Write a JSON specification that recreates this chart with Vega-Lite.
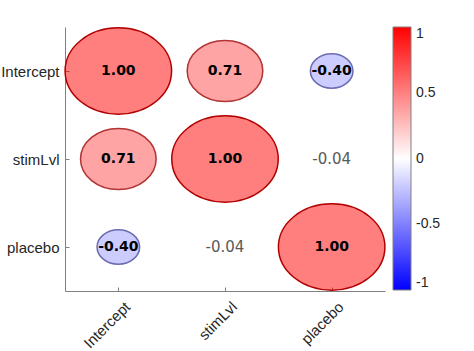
{
  "$schema": "https://vega.github.io/schema/vega-lite/v6.json",
  "width": 320,
  "height": 264,
  "autosize": "none",
  "padding": {"left": 65, "top": 27, "right": 89, "bottom": 60},
  "background": "white",
  "data": {
    "values": [
      {"row": "Intercept", "col": "Intercept", "r": 1.0},
      {"row": "Intercept", "col": "stimLvl", "r": 0.71},
      {"row": "Intercept", "col": "placebo", "r": -0.4},
      {"row": "stimLvl", "col": "Intercept", "r": 0.71},
      {"row": "stimLvl", "col": "stimLvl", "r": 1.0},
      {"row": "stimLvl", "col": "placebo", "r": -0.04},
      {"row": "placebo", "col": "Intercept", "r": -0.4},
      {"row": "placebo", "col": "stimLvl", "r": -0.04},
      {"row": "placebo", "col": "placebo", "r": 1.0}
    ]
  },
  "transform": [
    {"calculate": "datum.r * datum.r", "as": "r2"},
    {"calculate": "replace(format(datum.r, '.2f'), '\u2212', '-')", "as": "label"}
  ],
  "encoding": {
    "x": {
      "field": "col",
      "type": "nominal",
      "sort": ["Intercept", "stimLvl", "placebo"],
      "scale": {"paddingInner": 0, "paddingOuter": 0},
      "axis": {
        "title": null,
        "labelAngle": -45,
        "labelFont": "Liberation Sans",
        "labelFontSize": 15,
        "labelColor": "#262626",
        "domainColor": "#808080",
        "tickColor": "#808080",
        "tickSize": -4,
        "labelPadding": 12,
        "labelOffset": 4,
        "grid": false
      }
    },
    "y": {
      "field": "row",
      "type": "nominal",
      "sort": ["Intercept", "stimLvl", "placebo"],
      "scale": {"paddingInner": 0, "paddingOuter": 0},
      "axis": {
        "title": null,
        "labelFont": "Liberation Sans",
        "labelFontSize": 15,
        "labelColor": "#262626",
        "domainColor": "#808080",
        "tickColor": "#808080",
        "tickSize": -4,
        "labelPadding": 10,
        "grid": false
      }
    }
  },
  "layer": [
    {
      "transform": [{"filter": "abs(datum.r) >= 0.1"}],
      "mark": {
        "type": "point",
        "shape": "M -1 0 C -1 -0.4474 -0.5523 -0.81 0 -0.81 C 0.5523 -0.81 1 -0.4474 1 0 C 1 0.4474 0.5523 0.81 0 0.81 C -0.5523 0.81 -1 0.4474 -1 0 Z",
        "filled": true,
        "opacity": 1,
        "fillOpacity": 0.5,
        "strokeOpacity": 1,
        "strokeWidth": 1.5
      },
      "encoding": {
        "size": {
          "field": "r2",
          "type": "quantitative",
          "scale": {"type": "linear", "domain": [0, 1], "range": [0, 11342]},
          "legend": null
        },
        "fill": {
          "field": "r",
          "type": "quantitative",
          "scale": {"domain": [-1, 0, 1], "range": ["#0000ff", "#ffffff", "#ff0000"], "interpolate": "rgb"},
          "legend": {
            "type": "gradient",
            "title": null,
            "orient": "right",
            "direction": "vertical",
            "offset": 8,
            "padding": 0,
            "gradientLength": 263,
            "gradientThickness": 18,
            "gradientStrokeColor": "#808080",
            "gradientStrokeWidth": 1,
            "values": [-1, -0.5, 0, 0.5, 1],
            "format": "~g",
            "labelExpr": "replace(datum.label, '\u2212', '-')",
            "labelFont": "Liberation Sans",
            "labelFontSize": 14,
            "labelColor": "#262626",
            "labelOffset": 5,
            "labelOverlap": false,
            "encode": {"labels": {"baseline": {"value": "middle"}}}
          }
        },
        "stroke": {
          "field": "r",
          "type": "quantitative",
          "scale": {"domain": [1, 0, -1], "range": ["#b20000", "#b2b2b2", "#0000b2"], "interpolate": "rgb"},
          "legend": null
        }
      }
    },
    {
      "transform": [{"filter": "abs(datum.r) >= 0.1"}],
      "mark": {"type": "text", "font": "DejaVu Sans", "fontWeight": "bold", "fontSize": 14, "color": "#000000", "baseline": "middle", "align": "center"},
      "encoding": {"text": {"field": "label", "type": "nominal"}}
    },
    {
      "transform": [{"filter": "abs(datum.r) < 0.1"}],
      "mark": {"type": "text", "font": "DejaVu Sans", "fontSize": 15, "color": "#595959", "baseline": "middle", "align": "center"},
      "encoding": {"text": {"field": "label", "type": "nominal"}}
    }
  ],
  "config": {"view": {"stroke": null}}
}
